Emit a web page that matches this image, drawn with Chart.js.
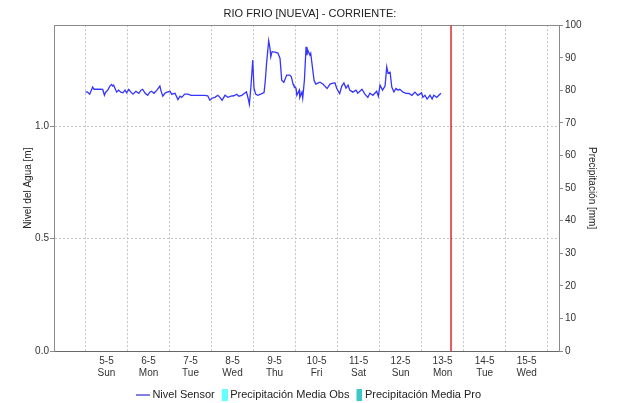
<!DOCTYPE html>
<html>
<head>
<meta charset="utf-8">
<script src="https://cdn.jsdelivr.net/npm/chart.js@4"></script>
<style>
  html, body { margin: 0; padding: 0; background: #fff; }
</style>
</head>
<body>
<canvas id="grafico" width="620" height="403"></canvas>
<script>
// Tiempo en dias desde 5-5 00:00 y nivel del sensor [m]
const dias = [
    0.00, 0.05, 0.10, 0.17, 0.20, 0.27, 0.34, 0.41, 0.45, 0.48,
    0.53, 0.58, 0.62, 0.65, 0.67, 0.74, 0.79, 0.84, 0.89, 0.94,
    0.98, 1.03, 1.08, 1.13, 1.20, 1.27, 1.32, 1.36, 1.42, 1.48,
    1.53, 1.57, 1.63, 1.70, 1.77, 1.80, 1.84, 1.89, 1.94, 2.01,
    2.05, 2.13, 2.20, 2.25, 2.29, 2.36, 2.44, 2.51, 2.60, 2.72,
    2.84, 2.91, 2.96, 3.01, 3.08, 3.15, 3.20, 3.25, 3.32, 3.39,
    3.46, 3.53, 3.60, 3.65, 3.72, 3.77, 3.83, 3.87, 3.90, 3.94,
    3.98, 4.01, 4.05, 4.10, 4.17, 4.25, 4.28, 4.31, 4.36, 4.39,
    4.41, 4.44, 4.51, 4.58, 4.63, 4.67, 4.72, 4.79, 4.86, 4.90,
    4.94, 4.96, 5.01, 5.03, 5.09, 5.10, 5.15, 5.17, 5.21, 5.25,
    5.27, 5.29, 5.34, 5.36, 5.41, 5.44, 5.48, 5.53, 5.58, 5.65,
    5.75, 5.82, 5.89, 5.94, 5.98, 6.05, 6.10, 6.15, 6.20, 6.25,
    6.29, 6.36, 6.44, 6.48, 6.58, 6.65, 6.72, 6.77, 6.84, 6.93,
    6.97, 7.01, 7.07, 7.13, 7.17, 7.20, 7.25, 7.29, 7.34, 7.39,
    7.44, 7.48, 7.56, 7.63, 7.70, 7.77, 7.84, 7.91, 8.00, 8.03,
    8.08, 8.13, 8.20, 8.25, 8.29, 8.36, 8.46
];
const nivel = [
    1.153, 1.152, 1.143, 1.175, 1.165, 1.165, 1.165, 1.164, 1.138, 1.152,
    1.161, 1.179, 1.186, 1.179, 1.183, 1.153, 1.161, 1.152, 1.149, 1.161,
    1.149, 1.164, 1.152, 1.143, 1.156, 1.147, 1.161, 1.165, 1.147, 1.138,
    1.152, 1.156, 1.147, 1.161, 1.179, 1.156, 1.134, 1.147, 1.152, 1.156,
    1.143, 1.147, 1.119, 1.134, 1.129, 1.143, 1.143, 1.138, 1.138, 1.138,
    1.138, 1.136, 1.116, 1.125, 1.129, 1.138, 1.129, 1.116, 1.138, 1.129,
    1.134, 1.136, 1.143, 1.134, 1.138, 1.145, 1.153, 1.125, 1.098, 1.183,
    1.295, 1.170, 1.143, 1.138, 1.143, 1.150, 1.205, 1.281, 1.381, 1.348,
    1.309, 1.332, 1.330, 1.326, 1.302, 1.205, 1.196, 1.228, 1.228, 1.220,
    1.188, 1.179, 1.170, 1.138, 1.161, 1.129, 1.152, 1.125, 1.205, 1.354,
    1.317, 1.339, 1.317, 1.325, 1.250, 1.205, 1.188, 1.192, 1.196, 1.188,
    1.168, 1.188, 1.192, 1.193, 1.168, 1.146, 1.179, 1.193, 1.170, 1.183,
    1.161, 1.152, 1.161, 1.147, 1.165, 1.143, 1.129, 1.147, 1.138, 1.156,
    1.134, 1.183, 1.161, 1.179, 1.265, 1.237, 1.241, 1.175, 1.153, 1.168,
    1.161, 1.165, 1.152, 1.147, 1.146, 1.138, 1.152, 1.138, 1.149, 1.129,
    1.138, 1.121, 1.138, 1.121, 1.138, 1.129, 1.147
];

// Precipitacion (sin datos en este periodo)
const precipObs = [];
const precipPro = [];

// Etiquetas del eje de tiempo
const etiquetasFecha = ['5-5', '6-5', '7-5', '8-5', '9-5', '10-5', '11-5', '12-5', '13-5', '14-5', '15-5'];
const etiquetasSemana = ['Sun', 'Mon', 'Tue', 'Wed', 'Thu', 'Fri', 'Sat', 'Sun', 'Mon', 'Tue', 'Wed'];
const ticksNivel = [0, 0.5, 1.0];

// Momento actual (linea roja), en dias
const ahora = 8.70;

const fuente = "'Liberation Sans', Arial, sans-serif";
Chart.defaults.font.family = fuente;
Chart.defaults.color = '#333';

// iconos de la leyenda
function icono(tipo, color) {
    const c = document.createElement('canvas');
    const g = c.getContext('2d');
    if (tipo === 'linea') {
        c.width = 30; c.height = 12;
        g.fillStyle = color;
        g.fillRect(8, 6, 14, 1);
    } else {
        c.width = 14; c.height = 12;
        g.fillStyle = color;
        g.fillRect(8, 0, 6, 12);
    }
    return c;
}

const gris = '#8a8a8a';
const rejilla = '#c4c4c4';

const ctx = document.getElementById('grafico').getContext('2d');
const grafico = new Chart(ctx, {
    data: {
        datasets: [{
            type: 'line',
            label: 'Nivel Sensor',
            data: dias.map((d, i) => ({x: d, y: nivel[i]})),
            borderColor: '#3535ff',
            borderWidth: 1.3,
            pointRadius: 0,
            tension: 0,
            yAxisID: 'y',
            pointStyle: icono('linea', '#0000c8')
        }, {
            type: 'bar',
            label: 'Precipitación Media Obs',
            data: precipObs,
            backgroundColor: '#66ffff',
            yAxisID: 'y2',
            pointStyle: icono('caja', '#66ffff')
        }, {
            type: 'bar',
            label: 'Precipitación Media Pro',
            data: precipPro,
            backgroundColor: '#3fc6c6',
            yAxisID: 'y2',
            pointStyle: icono('caja', '#3fc6c6')
        }, {
            type: 'line',
            label: 'ahora',
            data: [{x: ahora, y: 0}, {x: ahora, y: 100}],
            borderColor: '#e3262b',
            borderWidth: 1.5,
            pointRadius: 0,
            yAxisID: 'y2'
        }]
    },
    options: {
        responsive: false,
        animation: false,
        layout: { padding: { left: 0, right: 0, top: 0, bottom: -7 } },
        plugins: {
            title: {
                display: true,
                text: 'RIO FRIO [NUEVA] - CORRIENTE:',
                color: '#222',
                font: { size: 11, weight: 'normal', family: fuente },
                padding: { top: 7, bottom: 5 }
            },
            legend: {
                position: 'bottom',
                labels: {
                    usePointStyle: true,
                    pointStyleWidth: 8,
                    boxHeight: 12,
                    padding: 2,
                    color: '#222',
                    font: { size: 11, family: fuente },
                    filter: item => item.text !== 'ahora'
                }
            },
            tooltip: { enabled: false }
        },
        scales: {
            x: {
                type: 'linear',
                position: 'bottom',
                offset: false,
                min: -0.75,
                max: 11.27,
                afterBuildTicks: s => {
                    const t = [];
                    for (let i = 0; i <= etiquetasFecha.length; i++) {
                        t.push({value: i});
                        if (i < etiquetasFecha.length) t.push({value: i + 0.5});
                    }
                    s.ticks = t;
                },
                afterFit: s => { s.height = 36; },
                ticks: {
                    autoSkip: false,
                    maxRotation: 0,
                    padding: 4,
                    font: { size: 10 },
                    callback: v => {
                        const i = Math.floor(v);
                        return v % 1 ? [etiquetasFecha[i], etiquetasSemana[i]] : '';
                    }
                },
                grid: {
                    offset: false,
                    drawTicks: false,
                    color: c => (c.tick && c.tick.value % 1 === 0) ? rejilla : 'rgba(0,0,0,0)'
                },
                border: { color: '#666', dash: [2, 2] }
            },
            xTop: {
                type: 'linear',
                position: 'top',
                offset: false,
                min: -0.75,
                max: 11.27,
                afterFit: s => { s.height = 0; },
                ticks: { display: false },
                grid: { offset: false, drawOnChartArea: false, drawTicks: false },
                border: { color: gris }
            },
            y: {
                position: 'left',
                min: 0,
                max: 1.45,
                afterBuildTicks: s => { s.ticks = ticksNivel.map(v => ({value: v})); },
                afterFit: s => { s.width = 54; },
                ticks: {
                    padding: 1,
                    font: { size: 10 },
                    callback: v => v.toFixed(1)
                },
                grid: {
                    color: rejilla,
                    tickLength: 4,
                    tickColor: gris,
                    tickBorderDash: []
                },
                border: { color: gris, dash: [2, 2] },
                title: {
                    display: true,
                    text: 'Nivel del Agua [m]',
                    color: '#222',
                    font: { size: 10 },
                    padding: { top: 22, bottom: 0 }
                }
            },
            y2: {
                position: 'right',
                min: 0,
                max: 100,
                afterFit: s => { s.width = 61; },
                ticks: {
                    stepSize: 10,
                    padding: 2,
                    font: { size: 10 }
                },
                grid: {
                    drawOnChartArea: false,
                    tickLength: 4,
                    tickColor: gris
                },
                border: { color: gris },
                title: {
                    display: true,
                    text: 'Precipitación [mm]',
                    color: '#222',
                    font: { size: 10 },
                    padding: { top: 22, bottom: 0 }
                }
            }
        }
    }
});
</script>
</body>
</html>
